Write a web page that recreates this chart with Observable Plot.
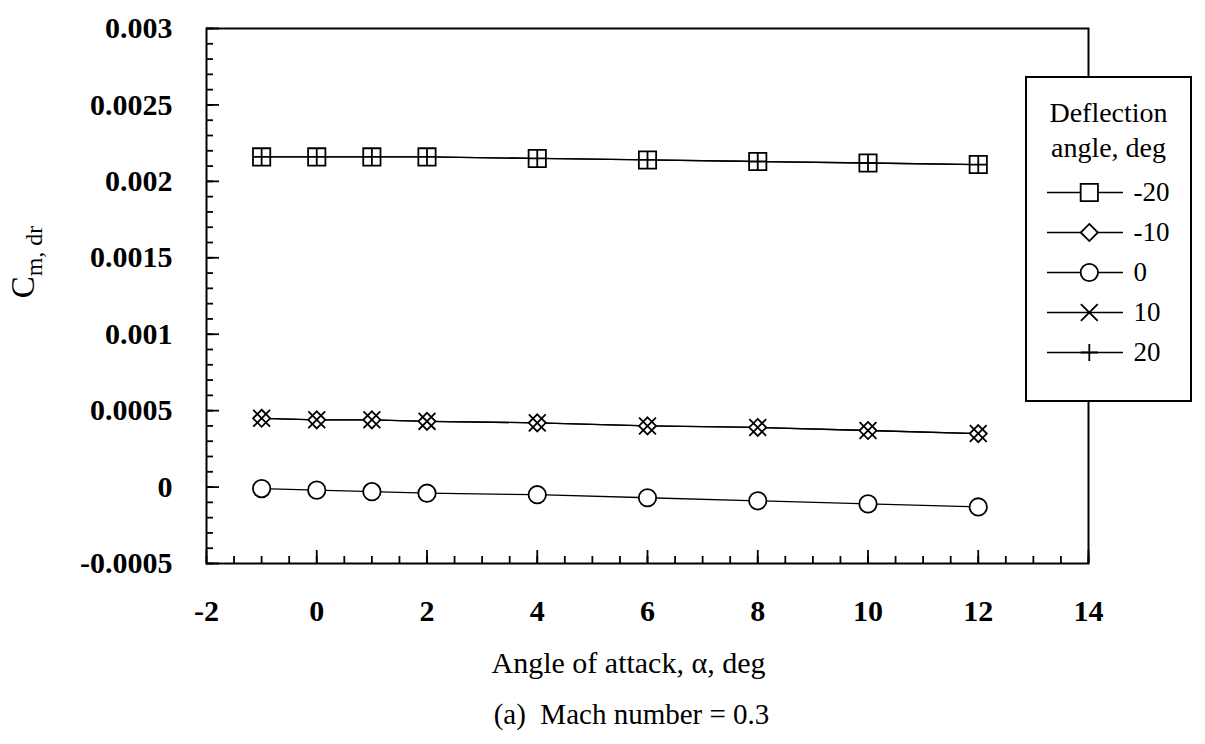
<!DOCTYPE html>
<html>
<head>
<meta charset="utf-8">
<script src="https://cdn.jsdelivr.net/npm/d3@7"></script>
<script src="https://cdn.jsdelivr.net/npm/@observablehq/plot@0.6"></script>
<style>
  body { margin: 0; background: #fff; }
  #wrap { position: relative; width: 1205px; height: 744px; font-family: "Liberation Serif", "Times New Roman", serif; }
  #legend { position: absolute; left: 1025px; top: 76px; width: 163px; height: 322px; border: 2px solid #000; background: #fff; }
  #legend .title { position: absolute; left: 0; right: 0; top: 17px; text-align: center; font-size: 28px; line-height: 35px; color: #000; }
  #legend .lp { position: absolute; left: 0; top: 0; }
</style>
</head>
<body>
<div id="wrap"><div id="legend"><div class="title">Deflection<br>angle, deg</div><div class="lp"></div></div></div>
<script>
// ---- data ----
const alpha = [-1, 0, 1, 2, 4, 6, 8, 10, 12];
const cmNeg20 = [0.00216, 0.00216, 0.00216, 0.00216, 0.00215, 0.00214, 0.00213, 0.00212, 0.00211];
const cmNeg10 = [0.00045, 0.00044, 0.00044, 0.00043, 0.00042, 0.00040, 0.00039, 0.00037, 0.00035];
const cmZero  = [-0.00001, -0.00002, -0.00003, -0.00004, -0.00005, -0.00007, -0.00009, -0.00011, -0.00013];
const cmPos10 = [0.00045, 0.00044, 0.00044, 0.00043, 0.00042, 0.00040, 0.00039, 0.00037, 0.00035];
const cmPos20 = [0.00216, 0.00216, 0.00216, 0.00216, 0.00215, 0.00214, 0.00213, 0.00212, 0.00211];

const legendLabels = ["-20", "-10", "0", "10", "20"];
const xTicks = [-2, 0, 2, 4, 6, 8, 10, 12, 14];
const yTicks = [-0.0005, 0, 0.0005, 0.001, 0.0015, 0.002, 0.0025, 0.003];
const xMinor = d3.range(-4, 29).map(i => i * 0.5);
const yMinor = d3.range(-5, 31).map(i => +(i * 0.0001).toFixed(4));

const series = [
  {defl: "-20", values: cmNeg20, symbol: "square2", r: 11, fill: "#fff"},
  {defl: "-10", values: cmNeg10, symbol: "diamond2", r: 7.7, fill: "#fff"},
  {defl: "0",   values: cmZero,  symbol: "circle", r: 8.7, fill: "#fff"},
  {defl: "10",  values: cmPos10, symbol: "times", r: 7.7, fill: "none"},
  {defl: "20",  values: cmPos20, symbol: "plus", r: 5.6, fill: "none"}
];
const rows = series.flatMap(s => alpha.map((a, i) => ({alpha: a, cm: s.values[i], defl: s.defl})));

const font = "Liberation Serif, Times New Roman, serif";

const dotMarks = series.map(s => Plot.dot(rows.filter(d => d.defl === s.defl), {
  x: "alpha", y: "cm", symbol: s.symbol, r: s.r, fill: s.fill, stroke: "#000", strokeWidth: 1.8
}));

const chart = Plot.plot({
  width: 1205,
  height: 744,
  marginLeft: 206,
  marginRight: 117,
  marginTop: 28,
  marginBottom: 181,
  style: {fontFamily: font, background: "#fff", color: "#000"},
  x: {domain: [-2, 14], label: null},
  y: {domain: [-0.0005, 0.003], label: null},
  marks: [
    Plot.axisY({ticks: yMinor, tickSize: -7, tickFormat: () => "", strokeWidth: 1.8, label: null}),
    Plot.axisY({ticks: yTicks, tickSize: -13, tickFormat: () => "", strokeWidth: 1.8, label: null}),
    Plot.axisY({ticks: yTicks, tickSize: 0, tickPadding: 34, tickFormat: d => String(d), fontSize: 30, fontWeight: "bold", label: null}),
    Plot.axisX({ticks: xMinor, tickSize: -7, tickFormat: () => "", strokeWidth: 1.8, label: null}),
    Plot.axisX({ticks: xTicks, tickSize: 0, tickFormat: () => "", label: null}),
    Plot.axisX({ticks: xTicks, tickSize: -13, tickFormat: () => "", strokeWidth: 1.8, label: null}),
    Plot.axisX({ticks: xTicks, tickSize: 0, tickPadding: 36, tickFormat: d => String(d), fontSize: 30, fontWeight: "bold", label: null}),
    Plot.frame({stroke: "#000", strokeWidth: 2}),
    Plot.line(rows, {x: "alpha", y: "cm", z: "defl", stroke: "#000", strokeWidth: 1.3}),
    ...dotMarks,
    Plot.text(["Angle of attack, α, deg"], {frameAnchor: "bottom", dy: 100, dx: -19, fontSize: 30, lineAnchor: "middle"}),
    Plot.text(["(a)  Mach number = 0.3"], {frameAnchor: "bottom", dy: 151, dx: -16, fontSize: 29, lineAnchor: "middle"})
  ]
});

// y-axis title with subscript
const yt = d3.select(chart).append("text")
  .attr("transform", "translate(34,262) rotate(-90)")
  .attr("text-anchor", "middle")
  .attr("font-family", font)
  .attr("fill", "#000");
yt.append("tspan").attr("font-size", 33).text("C");
yt.append("tspan").attr("font-size", 24).attr("dy", 8).text("m, dr");

document.getElementById("wrap").insertBefore(chart, document.getElementById("legend"));

// legend
const legendRows = series.map(s => ({label: s.defl, symbol: s.symbol, r: s.r, fill: s.fill}));
const legendPlot = Plot.plot({
  width: 163,
  height: 322,
  marginTop: 114,
  marginBottom: 48,
  marginLeft: 20,
  marginRight: 67,
  style: {fontFamily: font, background: "transparent", color: "#000"},
  x: {domain: [0, 1], axis: null},
  y: {type: "point", domain: legendLabels, padding: 0, axis: null},
  marks: [
    Plot.ruleY(legendLabels, {y: d => d, stroke: "#000", strokeWidth: 1.5}),
    ...legendRows.map(s => Plot.dot([s], {x: () => 0.55, y: "label", symbol: s.symbol, r: s.r, fill: s.fill, stroke: "#000", strokeWidth: 1.8})),
    Plot.text(legendLabels, {x: () => 1, y: d => d, dx: 10, textAnchor: "start", fontSize: 27})
  ]
});
document.querySelector("#legend .lp").appendChild(legendPlot);
</script>
</body>
</html>
